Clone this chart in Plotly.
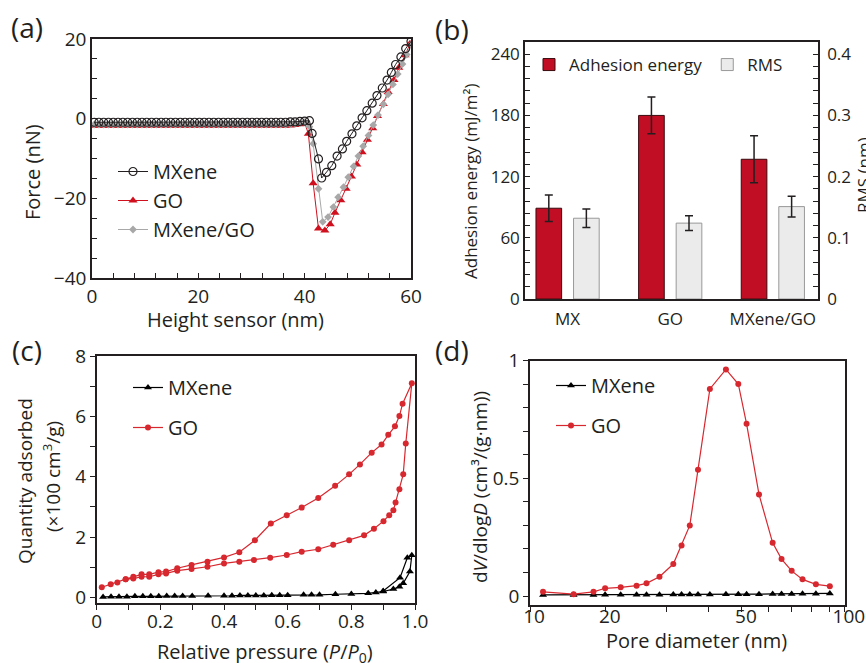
import plotly.graph_objects as go
import math

# ---------------- data ----------------
# (a) force curves
mx_x = [0.4, 1.3, 2.2, 3.1, 4.0, 4.9, 5.8, 6.7, 7.6, 8.5, 9.4, 10.3, 11.2, 12.1, 13.0, 13.9, 14.8, 15.7,
        16.6, 17.5, 18.4, 19.3, 20.2, 21.1, 22.0, 22.9, 23.8, 24.7, 25.6, 26.5, 27.4, 28.3, 29.2, 30.1,
        31.0, 31.9, 32.8, 33.7, 34.6, 35.5, 36.4, 37.3, 38.2, 39.1, 40.0,
        40.9, 41.4, 42.6, 43.2, 44.1, 45.1, 46.1, 47.1, 47.9, 48.9, 49.8, 50.8, 51.7, 52.7, 53.6, 54.6,
        55.5, 56.3, 57.1, 58.1, 59.0, 60.0]
mx_y = [-0.9, -0.9, -0.9, -0.9, -0.9, -0.9, -0.9, -0.9, -0.9, -0.9, -0.9, -0.9, -0.9, -0.9, -0.9, -0.9,
        -0.9, -0.9, -0.9, -0.9, -0.9, -0.9, -0.9, -0.9, -0.9, -0.9, -0.9, -0.9, -0.9, -0.9, -0.9, -0.9,
        -0.9, -0.9, -0.9, -0.9, -0.9, -0.9, -0.9, -0.9, -0.9, -0.8, -0.8, -0.7, -0.6,
        -0.5, -3.7, -10.1, -14.9, -13.5, -11.8, -9.4, -7.6, -5.7, -3.8, -1.8, 0.2, 2.0, 3.9, 5.8, 7.7,
        9.7, 11.6, 13.6, 15.5, 17.6, 19.4]
go_x = [0.4, 1.3, 2.2, 3.1, 4.0, 4.9, 5.8, 6.7, 7.6, 8.5, 9.4, 10.3, 11.2, 12.1, 13.0, 13.9, 14.8, 15.7,
        16.6, 17.5, 18.4, 19.3, 20.2, 21.1, 22.0, 22.9, 23.8, 24.7, 25.6, 26.5, 27.4, 28.3, 29.2, 30.1,
        31.0, 31.9, 32.8, 33.7, 34.6, 35.5, 36.4, 37.3, 38.2, 39.1, 40.0,
        40.7, 41.6, 42.6, 43.8, 44.8, 45.7, 46.8, 47.8, 48.8, 49.8, 50.8, 51.8, 52.8, 53.7, 54.8, 55.7,
        56.8, 57.7, 58.9, 59.8]
go_y = [-1.8, -1.8, -1.8, -1.8, -1.8, -1.8, -1.8, -1.8, -1.8, -1.8, -1.8, -1.8, -1.8, -1.8, -1.8, -1.8,
        -1.8, -1.8, -1.8, -1.8, -1.8, -1.8, -1.8, -1.8, -1.8, -1.8, -1.8, -1.8, -1.8, -1.8, -1.8, -1.8,
        -1.8, -1.8, -1.8, -1.8, -1.8, -1.8, -1.8, -1.8, -1.8, -1.7, -1.6, -1.4, -1.0,
        -3.8, -16.2, -27.6, -28.1, -26.5, -23.6, -20.5, -17.6, -14.5, -11.5, -8.4, -5.3, -2.4, 0.7, 3.7,
        6.7, 9.7, 12.8, 15.9, 18.8]
mg_x = [0.4, 1.3, 2.2, 3.1, 4.0, 4.9, 5.8, 6.7, 7.6, 8.5, 9.4, 10.3, 11.2, 12.1, 13.0, 13.9, 14.8, 15.7,
        16.6, 17.5, 18.4, 19.3, 20.2, 21.1, 22.0, 22.9, 23.8, 24.7, 25.6, 26.5, 27.4, 28.3, 29.2, 30.1,
        31.0, 31.9, 32.8, 33.7, 34.6, 35.5, 36.4, 37.3, 38.2, 39.1, 40.0,
        40.9, 41.6, 42.6, 43.4, 44.4, 45.4, 46.3, 47.3, 48.2, 49.2, 50.1, 51.0, 52.0, 52.9, 53.8, 54.8,
        55.7, 56.6, 57.5, 58.4, 59.2, 60.0]
mg_y = [-1.5, -1.5, -1.5, -1.5, -1.5, -1.5, -1.5, -1.5, -1.5, -1.5, -1.5, -1.5, -1.5, -1.5, -1.5, -1.5,
        -1.5, -1.5, -1.5, -1.5, -1.5, -1.5, -1.5, -1.5, -1.5, -1.5, -1.5, -1.5, -1.5, -1.5, -1.5, -1.5,
        -1.5, -1.5, -1.5, -1.5, -1.5, -1.5, -1.5, -1.5, -1.5, -1.4, -1.3, -1.2, -0.9,
        -2.0, -6.3, -17.6, -25.9, -24.7, -22.2, -19.7, -17.2, -14.7, -12.0, -9.4, -6.9, -4.2, -1.6, 0.9,
        3.6, 6.1, 8.6, 11.2, 13.7, 16.1, 18.6]

# (b) adhesion energy and RMS
samples = ["MX", "GO", "MXene/GO"]
sample_pos = [0, 1, 2]
adhesion = [89, 180, 137]
adhesion_err = [13, 18, 23]
rms = [0.132, 0.124, 0.151]
rms_err = [0.015, 0.012, 0.017]

# (c) N2 isotherms
c_mx_x = [0.02, 0.045, 0.07, 0.095, 0.12, 0.145, 0.17, 0.195, 0.22, 0.245, 0.27, 0.30, 0.35, 0.40,
          0.425, 0.45, 0.475, 0.50, 0.525, 0.55, 0.575, 0.60, 0.65, 0.675, 0.70, 0.75, 0.80, 0.853,
          0.877, 0.90, 0.932, 0.951, 0.963, 0.984, 0.99, 0.976, 0.953, 0.90]
c_mx_y = [0.02, 0.03, 0.03, 0.03, 0.04, 0.04, 0.04, 0.04, 0.05, 0.05, 0.05, 0.05, 0.06, 0.06,
          0.06, 0.07, 0.07, 0.07, 0.07, 0.08, 0.08, 0.08, 0.09, 0.09, 0.09, 0.11, 0.12, 0.14,
          0.17, 0.20, 0.28, 0.36, 0.47, 0.86, 1.40, 1.32, 0.66, 0.22]
c_go_x = [0.016, 0.044, 0.065, 0.091, 0.115, 0.141, 0.165, 0.194, 0.218, 0.253, 0.298, 0.348, 0.40,
          0.448, 0.494, 0.545, 0.597, 0.644, 0.696, 0.743, 0.793, 0.840, 0.871, 0.901, 0.919, 0.932,
          0.939, 0.951, 0.963, 0.971, 0.990,
          0.961, 0.951, 0.937, 0.916, 0.895, 0.864, 0.827, 0.793, 0.749, 0.696, 0.644, 0.597, 0.547,
          0.497, 0.448, 0.40, 0.348, 0.298, 0.253, 0.218, 0.194, 0.165, 0.141, 0.115, 0.091]
c_go_y = [0.34, 0.44, 0.50, 0.61, 0.63, 0.69, 0.69, 0.77, 0.80, 0.89, 0.95, 1.02, 1.13,
          1.19, 1.24, 1.32, 1.41, 1.52, 1.60, 1.75, 1.90, 2.06, 2.28, 2.53, 2.73, 2.89,
          3.15, 3.59, 4.08, 5.10, 7.10,
          6.42, 6.01, 5.67, 5.39, 5.07, 4.80, 4.41, 4.08, 3.70, 3.30, 2.98, 2.73, 2.45,
          1.90, 1.50, 1.33, 1.19, 1.08, 0.97, 0.86, 0.84, 0.77, 0.77, 0.69, 0.61]

# (d) pore size distribution
d_x = [13.1, 16.1, 18.4, 19.9, 22.1, 24.6, 26.3, 28.7, 31.5, 33.3, 35.2, 37.2, 40.3, 44.9, 48.8,
       51.6, 56.1, 61.5, 65.3, 69.9, 75.2, 82.3, 90.4]
d_go = [0.018, 0.008, 0.018, 0.033, 0.037, 0.044, 0.054, 0.082, 0.136, 0.215, 0.30, 0.537, 0.880,
        0.963, 0.901, 0.732, 0.432, 0.226, 0.157, 0.107, 0.071, 0.050, 0.042]
d_mx = [0.005, 0.005, 0.005, 0.006, 0.006, 0.006, 0.006, 0.006, 0.007, 0.007, 0.007, 0.007, 0.007,
        0.008, 0.008, 0.008, 0.008, 0.009, 0.009, 0.009, 0.010, 0.010, 0.011]

d_tickvals = [12.0, 20, 50, 100]
d_ticktext = ["10", "20", "50", "100"]
d_minorvals = [30, 40, 60, 70, 80, 90]
c_tickvals = [0, 0.2, 0.4, 0.6, 0.8, 1.0]
c_ticktext = ["0", "0.2", "0.4", "0.6", "0.8", "1.0"]

# ---------------- style ----------------
FONT = "Open Sans"
INK = "#231f20"
RED = "#d0101e"
BARRED = "#c20e24"
LRED = "#d7282f"
GRAY = "#a8a8a8"
W, H = 866, 663


def fx(px):
    return px / W


def fy(py):
    return 1 - py / H


fig = go.Figure()

# (a)
fig.add_trace(go.Scatter(x=go_x, y=go_y, name="GO", mode="lines+markers", xaxis="x", yaxis="y",
                         line=dict(color=RED, width=1),
                         marker=dict(symbol="triangle-up", size=8, color=RED),
                         legend="legend", legendgroup="a2", legendrank=2))
fig.add_trace(go.Scatter(x=mg_x, y=mg_y, name="MXene/GO", mode="lines+markers", xaxis="x", yaxis="y",
                         line=dict(color=GRAY, width=1),
                         marker=dict(symbol="diamond", size=6, color=GRAY),
                         legend="legend", legendgroup="a3", legendrank=3))
fig.add_trace(go.Scatter(x=mx_x, y=mx_y, name="MXene", mode="lines+markers", xaxis="x", yaxis="y",
                         line=dict(color=INK, width=1),
                         marker=dict(symbol="circle-open", size=8, color=INK, line=dict(width=1.2)),
                         legend="legend", legendgroup="a1", legendrank=1))

# (b)
fig.add_trace(go.Bar(x=sample_pos, y=adhesion, name="Adhesion energy", xaxis="x2", yaxis="y2",
                     width=0.25, offset=-0.308,
                     marker=dict(color=BARRED, line=dict(color="#3a0a0e", width=1)),
                     error_y=dict(type="data", array=adhesion_err, color=INK, thickness=1.5, width=4),
                     legend="legend2"))
fig.add_trace(go.Bar(x=sample_pos, y=rms, name="RMS", xaxis="x2", yaxis="y3",
                     width=0.25, offset=0.058,
                     marker=dict(color="#ebebeb", line=dict(color="#999999", width=1)),
                     error_y=dict(type="data", array=rms_err, color=INK, thickness=1.5, width=4),
                     legend="legend2"))

# (c)
fig.add_trace(go.Scatter(x=c_mx_x, y=c_mx_y, name="MXene", mode="lines+markers", xaxis="x3", yaxis="y4",
                         line=dict(color="black", width=1.2),
                         marker=dict(symbol="triangle-up", size=7, color="black"),
                         legend="legend3", legendgroup="c1"))
fig.add_trace(go.Scatter(x=c_go_x, y=c_go_y, name="GO", mode="lines+markers", xaxis="x3", yaxis="y4",
                         line=dict(color=LRED, width=1.2),
                         marker=dict(symbol="circle", size=6, color=LRED),
                         legend="legend3", legendgroup="c2"))

# (d)
fig.add_trace(go.Scatter(x=d_x, y=d_mx, name="MXene", mode="lines+markers", xaxis="x4", yaxis="y5",
                         line=dict(color="black", width=1.2),
                         marker=dict(symbol="triangle-up", size=7, color="black"),
                         legend="legend4", legendgroup="d1"))
fig.add_trace(go.Scatter(x=d_x, y=d_go, name="GO", mode="lines+markers", xaxis="x4", yaxis="y5",
                         line=dict(color=LRED, width=1.2),
                         marker=dict(symbol="circle", size=6, color=LRED),
                         legend="legend4", legendgroup="d2"))


def axis(**kw):
    base = dict(showline=True, linecolor=INK, linewidth=1.5, mirror=True, ticks="inside", ticklen=5,
                tickwidth=1.2, tickcolor=INK, tickfont=dict(family=FONT, size=19, color=INK),
                showgrid=False, zeroline=False, automargin=False, ticklabeloverflow="allow")
    base.update(kw)
    return base


def minor_in(d):
    return dict(dtick=d, ticks="inside", ticklen=5, tickwidth=1.2, tickcolor=INK, showgrid=False)


def minor_out(d):
    return dict(dtick=d, ticks="outside", ticklen=5, tickwidth=1.2, tickcolor=INK, showgrid=False)


fig.update_layout(
    template="none",
    width=W, height=H, margin=dict(l=0, r=0, t=0, b=0, autoexpand=False),
    paper_bgcolor="white", plot_bgcolor="white",
    font=dict(family=FONT, color=INK),
    xaxis=axis(domain=[fx(92), fx(411)], range=[0, 60], dtick=20, minor=minor_in(4), anchor="y"),
    yaxis=axis(domain=[fy(278), fy(39)], range=[-40, 20], dtick=20, minor=minor_in(5), anchor="x"),
    xaxis2=axis(domain=[fx(525), fx(818)], range=[-0.415, 2.44], tickmode="array", tickvals=sample_pos,
                ticktext=samples, ticks="", anchor="y2", ticklabelstandoff=4,
                tickfont=dict(family=FONT, size=17, color=INK)),
    yaxis2=axis(domain=[fy(299), fy(42)], range=[0, 252], dtick=60, minor=minor_in(12), anchor="x2",
                mirror=False, tickfont=dict(family=FONT, size=17, color=INK)),
    yaxis3=axis(domain=[fy(299), fy(42)], range=[0, 0.42], dtick=0.1, minor=minor_in(0.02), anchor="x2",
                overlaying="y2", side="right", mirror=False, ticklabelstandoff=4,
                tickfont=dict(family=FONT, size=17, color=INK)),
    xaxis3=axis(domain=[fx(96.7), fx(415)], range=[0, 1.0], tickmode="array", tickvals=c_tickvals,
                ticktext=c_ticktext, ticks="outside", minor=minor_out(0.1), anchor="y4",
                ticklabelstandoff=-5),
    yaxis4=axis(domain=[fy(603), fy(356)], range=[-0.18, 8], dtick=2, ticks="outside", minor=minor_out(1),
                anchor="x3"),
    xaxis4=axis(domain=[fx(530), fx(845)], type="log", range=[math.log10(12.0), 2.0005], tickmode="array",
                tickvals=d_tickvals, ticktext=d_ticktext, ticks="outside", ticklabelshift=4,
                ticklabelstandoff=-12, anchor="y5",
                minor=dict(tickmode="array", tickvals=d_minorvals, ticks="outside", ticklen=5,
                           tickwidth=1.2, tickcolor=INK, showgrid=False)),
    yaxis5=axis(domain=[fy(605), fy(360.7)], range=[-0.038, 1.0], dtick=0.5, ticks="outside",
                minor=minor_out(0.1), anchor="x4"),
    barmode="overlay",
    legend=dict(x=fx(113), y=fy(152), xanchor="left", yanchor="top", font=dict(family=FONT, size=20, color=INK),
                bgcolor="rgba(0,0,0,0)", tracegroupgap=0, traceorder="normal"),
    legend2=dict(x=fx(529), y=fy(47), xanchor="left", yanchor="top", orientation="h",
                 font=dict(family=FONT, size=17, color=INK), bgcolor="rgba(0,0,0,0)"),
    legend3=dict(x=fx(128), y=fy(368), xanchor="left", yanchor="top", font=dict(family=FONT, size=20, color=INK),
                 bgcolor="rgba(0,0,0,0)", tracegroupgap=11),
    legend4=dict(x=fx(551), y=fy(366), xanchor="left", yanchor="top", font=dict(family=FONT, size=20, color=INK),
                 bgcolor="rgba(0,0,0,0)", tracegroupgap=11),
    showlegend=True,
)


def ann(text, px, py, size, angle=0, xanchor="center"):
    fig.add_annotation(text=text, x=fx(px), y=fy(py), xref="paper", yref="paper", showarrow=False,
                       xanchor=xanchor, yanchor="middle", textangle=angle,
                       font=dict(family=FONT, size=size, color=INK))


# panel labels
ann("(a)", 27, 27, 28)
ann("(b)", 452, 29, 28)
ann("(c)", 27, 350, 28)
ann("(d)", 452, 350, 28)
# axis titles
ann("Force (nN)", 33, 172, 20, -90)
ann("Height sensor (nm)", 235, 319, 20)
ann("Adhesion energy (mJ/m²)", 470, 182, 17, -90)
ann("RMS (nm)", 864, 175, 17, -90)
ann("Quantity adsorbed", 25, 481, 19, -90)
ann("(×100 cm<sup>3</sup>/g)", 52, 477, 19, -90)
ann("Relative pressure (<i>P</i>/<i>P</i><sub>0</sub>)", 265, 652, 20)
ann("d<i>V</i>/dlog<i>D</i> (cm³/(g·nm))", 480, 487, 19, -90)
ann("Pore diameter (nm)", 696, 640, 20)

fig.write_html("out.html")
